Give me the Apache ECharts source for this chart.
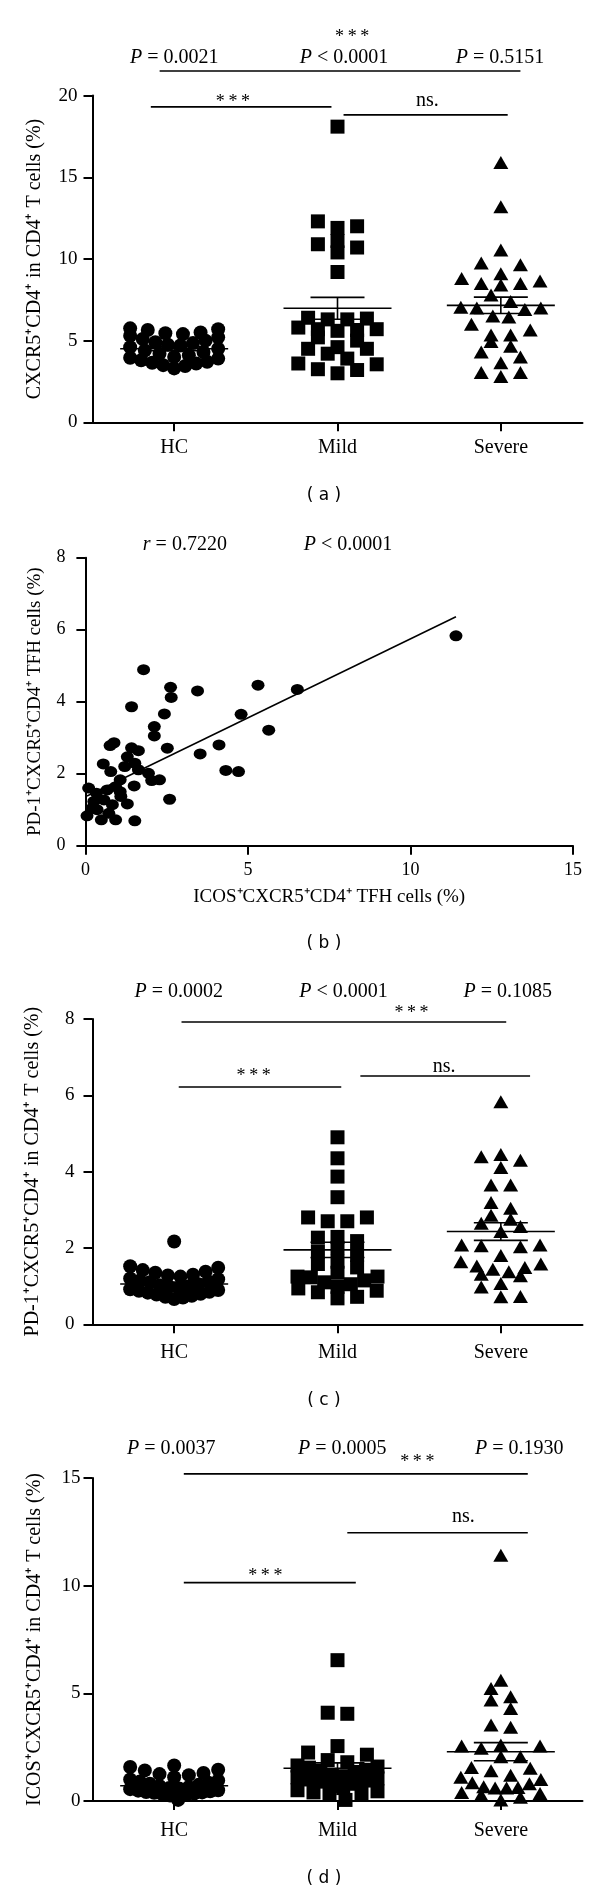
<!DOCTYPE html>
<html><head><meta charset="utf-8">
<script src="https://cdn.jsdelivr.net/npm/echarts@6/dist/echarts.min.js"></script>
<style>html,body{margin:0;padding:0;background:#fff}#c{width:600px;height:1895px}</style>
</head><body><div id="c"></div>
<script>
// ---------------- DATA ----------------
const groups = ['HC', 'Mild', 'Severe'];

// (a) CXCR5+CD4+ in CD4+ T cells (%)
const aYTicks = [0, 5, 10, 15, 20];
const aHC = [5.75, 5.7, 5.65, 5.5, 5.45, 5.4, 5.3, 5.2, 5.1, 5.0, 4.9, 4.85, 4.75, 4.7, 4.6, 4.5, 4.4, 4.3, 4.2, 4.1, 4.0, 3.95, 3.9, 3.8, 3.7, 3.65, 3.6, 3.5, 3.45, 3.3];
const aMild = [18.1, 12.3, 12.0, 11.9, 11.1, 10.9, 10.7, 10.4, 9.2, 6.4, 6.35, 6.3, 6.3, 5.8, 5.7, 5.7, 5.65, 5.6, 5.2, 5.0, 4.6, 4.5, 4.5, 4.2, 3.9, 3.6, 3.55, 3.25, 3.2, 3.0];
const aSevere = [15.9, 13.2, 10.55, 9.75, 9.65, 9.1, 8.8, 8.65, 8.5, 8.5, 8.4, 7.8, 7.4, 7.05, 7.0, 7.0, 6.9, 6.5, 6.45, 6.0, 5.65, 5.35, 5.35, 4.95, 4.65, 4.3, 4.0, 3.65, 3.05, 3.05, 2.8];
const aMean = [4.5, 6.98, 7.16];
const aSEM = [0.12, 0.67, 0.5];
const aP = ['{i|P} = 0.0021', '{i|P} < 0.0001', '{i|P} = 0.5151'];

// (b) correlation
const bXTicks = [0, 5, 10, 15];
const bYTicks = [0, 2, 4, 6, 8];
const bX = [1.79,1.42,2.62,2.64,3.45,5.31,6.52,2.43,4.79,5.64,2.12,2.12,2.52,4.11,3.53,4.32,4.71,2.59,1.52,0.76,0.88,1.42,1.63,0.55,1.29,1.52,0.78,1.21,1.63,1.94,2.04,2.28,1.50,0.10,0.34,0.67,0.93,1.07,0.26,0.57,1.09,1.29,0.05,0.36,0.49,0.72,0.93,0.21,0.83,1.07,11.4];
const bY = [4.89,3.86,4.40,4.12,4.30,4.46,4.34,3.66,3.65,3.21,3.31,3.05,2.71,2.80,2.55,2.09,2.06,1.29,0.69,2.78,2.86,2.72,2.64,2.27,2.47,2.29,2.06,2.20,2.11,2.01,1.81,1.83,1.66,1.60,1.46,1.55,1.64,1.83,1.23,1.27,1.37,1.16,0.83,1.00,0.72,0.90,0.72,1.04,1.14,1.50,5.83];
const bFitX = [0.05, 11.4];
const bFitY = [1.38, 6.36];
const bStats = ['{i|r} = 0.7220', '{i|P} < 0.0001'];

// (c) PD-1+CXCR5+CD4+ in CD4+ T cells (%)
const cYTicks = [0, 2, 4, 6, 8];
const cHC = [2.17, 1.52, 1.48, 1.42, 1.38, 1.35, 1.3, 1.28, 1.25, 1.2, 1.18, 1.15, 1.12, 1.1, 1.05, 1.02, 1.0, 0.98, 0.95, 0.92, 0.9, 0.88, 0.85, 0.83, 0.8, 0.78, 0.75, 0.72, 0.7, 0.66];
const cMild = [4.9, 4.35, 3.87, 3.33, 2.8, 2.8, 2.7, 2.7, 2.29, 2.27, 2.18, 2.0, 1.9, 1.82, 1.64, 1.58, 1.49, 1.35, 1.25, 1.25, 1.23, 1.15, 1.1, 1.05, 0.98, 0.94, 0.88, 0.84, 0.72, 0.68];
const cSevere = [5.83, 4.45, 4.39, 4.3, 4.11, 3.65, 3.65, 3.19, 3.04, 2.86, 2.75, 2.65, 2.56, 2.43, 2.08, 2.08, 2.06, 2.03, 1.8, 1.64, 1.58, 1.53, 1.49, 1.44, 1.38, 1.31, 1.27, 1.07, 0.98, 0.73, 0.72];
const cMean = [1.055, 1.95, 2.43];
const cSEM = [0.05, 0.2, 0.23];
const cP = ['{i|P} = 0.0002', '{i|P} < 0.0001', '{i|P} = 0.1085'];

// (d) ICOS+CXCR5+CD4+ in CD4+ T cells (%)
const dYTicks = [0, 5, 10, 15];
const dHC = [1.65, 1.58, 1.45, 1.42, 1.3, 1.25, 1.2, 1.1, 1.0, 0.95, 0.9, 0.85, 0.8, 0.75, 0.7, 0.65, 0.6, 0.58, 0.55, 0.5, 0.48, 0.45, 0.42, 0.4, 0.38, 0.35, 0.32, 0.3, 0.25, 0.05];
const dMild = [6.54, 4.1, 4.05, 2.55, 2.25, 2.15, 1.9, 1.8, 1.65, 1.6, 1.55, 1.45, 1.4, 1.35, 1.2, 1.15, 1.1, 1.05, 1.0, 0.95, 0.9, 0.8, 0.7, 0.6, 0.5, 0.45, 0.4, 0.35, 0.3, 0.05];
const dSevere = [11.41, 5.61, 5.23, 4.84, 4.69, 4.3, 3.53, 3.42, 2.6, 2.55, 2.55, 2.45, 2.06, 2.06, 1.56, 1.52, 1.4, 1.2, 1.1, 1.0, 0.85, 0.8, 0.66, 0.63, 0.6, 0.6, 0.39, 0.35, 0.28, 0.17, 0.05];
const dMean = [0.71, 1.52, 2.29];
const dSEM = [0.07, 0.25, 0.42];
const dP = ['{i|P} = 0.0037', '{i|P} = 0.0005', '{i|P} = 0.1930'];

const STARS = '*\u2009*\u2009*';

// ---------------- LAYOUT / STYLE ----------------
const FONT = '"Liberation Serif", "Times New Roman", serif';
const panels = [
  { vals: [aHC, aMild, aSevere], mean: aMean, sem: aSEM, yTicks: aYTicks,
    yName: 'CXCR5⁺CD4⁺ in CD4⁺ T cells (%)',
    L: { left: 92.5, top: 95.6, width: 490, height: 326.7, xMargin: 15.7, yMargin: 15, nameGap: 47.7 },
    texts: [
      { x: 1.09, y: 23.58, t: STARS, s: 18 },
      { x: 0.0, y: 22.34, t: aP[0] }, { x: 1.04, y: 22.34, t: aP[1] }, { x: 1.995, y: 22.34, t: aP[2] },
      { x: 0.36, y: 19.61, t: STARS, s: 18 },
      { x: 1.55, y: 19.68, t: 'ns.' }
    ],
    lines: [[-0.089, 2.12, 21.51], [-0.143, 0.963, 19.31], [1.037, 2.042, 18.82]] },
  { vals: [cHC, cMild, cSevere], mean: cMean, sem: cSEM, yTicks: cYTicks,
    yName: 'PD-1⁺CXCR5⁺CD4⁺ in CD4⁺ T cells (%)',
    L: { left: 92.5, top: 1019, width: 490, height: 305.3, xMargin: 18.4, yMargin: 18, nameGap: 49.6 },
    texts: [
      { x: 0.028, y: 8.706, t: cP[0] }, { x: 1.037, y: 8.706, t: cP[1] }, { x: 2.042, y: 8.706, t: cP[2] },
      { x: 1.453, y: 8.156, t: STARS, s: 18 },
      { x: 0.487, y: 6.505, t: STARS, s: 18 },
      { x: 1.653, y: 6.754, t: 'ns.' }
    ],
    lines: [[0.045, 2.033, 7.92], [0.028, 1.023, 6.217], [1.14, 2.179, 6.505]] },
  { vals: [dHC, dMild, dSevere], mean: dMean, sem: dSEM, yTicks: dYTicks,
    yName: 'ICOS⁺CXCR5⁺CD4⁺ in CD4⁺ T cells (%)',
    L: { left: 92.5, top: 1478, width: 490, height: 323, xMargin: 19.7, yMargin: 12, nameGap: 47.7 },
    texts: [
      { x: -0.018, y: 16.35, t: dP[0] }, { x: 1.029, y: 16.35, t: dP[1] }, { x: 2.113, y: 16.35, t: dP[2] },
      { x: 1.489, y: 15.72, t: STARS, s: 18 },
      { x: 1.771, y: 13.21, t: 'ns.' },
      { x: 0.558, y: 10.45, t: STARS, s: 18 }
    ],
    lines: [[0.059, 2.165, 15.19], [1.06, 2.165, 12.46], [0.059, 1.112, 10.14]] }
];
const bLayout = { left: 85.4, top: 557.7, width: 487.6, height: 288, xMargin: 16, yMargin: 20, yNameGap: 40.8, xNameGap: 41.6,
  texts: [{ x: 3.06, y: 8.37, t: bStats[0] }, { x: 8.08, y: 8.37, t: bStats[1] }] };
const captions = [['( a )', 324, 496], ['( b )', 324, 944], ['( c )', 324, 1400.7], ['( d )', 324, 1879]];
const shapes = [
  { symbol: 'circle', size: 14 },
  { symbol: 'rect', size: 14 },
  { symbol: 'triangle', size: [15, 13] }
];
const SW = { bin: 11, col: 19.6, halfHC: 44, half: 40 };

// ---------------- BUILD ----------------
function swarm(values, gi, pxU, pxC, bin, col, half) {
  const s = values.slice().sort((a, b) => a - b);
  const rows = [];
  let cur = null;
  s.forEach(v => {
    if (!cur || (v - cur[0]) * pxU > bin) { cur = [v]; rows.push(cur); } else cur.push(v);
  });
  const out = [];
  rows.forEach(r => {
    const n = r.length;
    let d = col;
    if (n > 1 && (n - 1) * d > 2 * half) d = 2 * half / (n - 1);
    r.forEach((v, i) => {
      let k;
      if (n % 2) k = i === 0 ? 0 : (i % 2 ? 1 : -1) * Math.ceil(i / 2);
      else k = (i % 2 ? -1 : 1) * (Math.floor(i / 2) + 0.5);
      out.push([gi + k * d / pxC, v]);
    });
  });
  return out;
}

const grids = [], xAxes = [], yAxes = [], series = [];
const axisLine = { show: true, onZero: false, lineStyle: { color: '#000', width: 2 } };
const axisTick = { show: true, inside: false, length: 9, lineStyle: { color: '#000', width: 2 } };

function textRich(size) {
  return { i: { fontStyle: 'italic', fontFamily: FONT, fontSize: size, fill: '#000' } };
}
function textSeries(xi, yi, texts) {
  return {
    type: 'custom', xAxisIndex: xi, yAxisIndex: yi, clip: false, silent: true, z: 6,
    data: texts.map(t => [t.x, t.y]), encode: { x: 0, y: 1 },
    renderItem: (params, api) => {
      const t = texts[params.dataIndex];
      const c = api.coord([api.value(0), api.value(1)]);
      const sz = t.s || 20;
      return { type: 'text', x: c[0], y: c[1], style: {
        text: t.t, fill: '#000', fontFamily: FONT, fontSize: sz,
        align: 'center', verticalAlign: 'middle', textAlign: 'center', textVerticalAlign: 'middle',
        rich: textRich(sz) } };
    }
  };
}
function lineSeries(xi, yi, lines) {
  return {
    type: 'custom', xAxisIndex: xi, yAxisIndex: yi, clip: false, silent: true, z: 6,
    data: lines, encode: { x: [0, 1], y: 2 },
    renderItem: (params, api) => {
      const p1 = api.coord([api.value(0), api.value(2)]);
      const p2 = api.coord([api.value(1), api.value(2)]);
      return { type: 'line', shape: { x1: p1[0], y1: p1[1], x2: p2[0], y2: p2[1] },
        style: { stroke: '#000', lineWidth: 1.6 } };
    }
  };
}

panels.forEach(p => {
  const L = p.L;
  const gi = grids.length;
  grids.push({ left: L.left, top: L.top, width: L.width, height: L.height, containLabel: false, outerBoundsMode: 'none' });
  const yMin = p.yTicks[0], yMax = p.yTicks[p.yTicks.length - 1], yInt = p.yTicks[1] - p.yTicks[0];
  const pxU = L.height / (yMax - yMin), pxC = L.width / groups.length;
  xAxes.push({ type: 'category', gridIndex: gi, data: groups, boundaryGap: true,
    axisLine, axisTick: Object.assign({ alignWithLabel: true }, axisTick),
    axisLabel: { show: true, color: '#000', fontFamily: FONT, fontSize: 20, margin: L.xMargin },
    splitLine: { show: false } });
  const xVal = xAxes.length;
  xAxes.push({ type: 'value', gridIndex: gi, min: -0.5, max: 2.5, show: false, splitLine: { show: false } });
  const yi = yAxes.length;
  yAxes.push({ type: 'value', gridIndex: gi, min: yMin, max: yMax, interval: yInt,
    axisLine, axisTick, splitLine: { show: false },
    axisLabel: { show: true, color: '#000', fontFamily: FONT, fontSize: 19, margin: L.yMargin },
    name: p.yName, nameLocation: 'middle', nameGap: L.nameGap,
    nameTextStyle: { color: '#000', fontFamily: FONT, fontSize: 20 } });
  p.vals.forEach((vals, g) => {
    series.push({ type: 'scatter', xAxisIndex: xVal, yAxisIndex: yi, clip: false, silent: true, z: 2,
      data: swarm(vals, g, pxU, pxC, SW.bin, SW.col, g === 0 ? SW.halfHC : SW.half),
      symbol: shapes[g].symbol, symbolSize: shapes[g].size,
      itemStyle: { color: '#000', opacity: 1 } });
  });
  series.push({ type: 'custom', xAxisIndex: xVal, yAxisIndex: yi, silent: true, z: 4,
    data: p.mean.map((m, g) => [g, m, p.sem[g]]), encode: { x: 0, y: 1 },
    renderItem: (params, api) => {
      const g = api.value(0), m = api.value(1), s = api.value(2);
      const c = api.coord([g, m]), t = api.coord([g, m + s]), b = api.coord([g, m - s]);
      const st = { stroke: '#000', lineWidth: 1.6 };
      return { type: 'group', children: [
        { type: 'line', shape: { x1: c[0] - 54, y1: c[1], x2: c[0] + 54, y2: c[1] }, style: st },
        { type: 'line', shape: { x1: t[0] - 27, y1: t[1], x2: t[0] + 27, y2: t[1] }, style: st },
        { type: 'line', shape: { x1: b[0] - 27, y1: b[1], x2: b[0] + 27, y2: b[1] }, style: st },
        { type: 'line', shape: { x1: c[0], y1: t[1], x2: c[0], y2: b[1] }, style: st }
      ] };
    } });
  series.push(lineSeries(xVal, yi, p.lines));
  series.push(textSeries(xVal, yi, p.texts));
});

// panel (b)
(function () {
  const L = bLayout;
  const gi = grids.length;
  grids.push({ left: L.left, top: L.top, width: L.width, height: L.height, containLabel: false, outerBoundsMode: 'none' });
  const xi = xAxes.length;
  xAxes.push({ type: 'value', gridIndex: gi, min: bXTicks[0], max: bXTicks[bXTicks.length - 1], interval: bXTicks[1] - bXTicks[0],
    axisLine, axisTick, splitLine: { show: false },
    axisLabel: { show: true, color: '#000', fontFamily: FONT, fontSize: 18, margin: L.xMargin },
    name: 'ICOS⁺CXCR5⁺CD4⁺ TFH cells (%)', nameLocation: 'middle', nameGap: L.xNameGap,
    nameTextStyle: { color: '#000', fontFamily: FONT, fontSize: 19 } });
  const yi = yAxes.length;
  yAxes.push({ type: 'value', gridIndex: gi, min: bYTicks[0], max: bYTicks[bYTicks.length - 1], interval: bYTicks[1] - bYTicks[0],
    axisLine, axisTick, splitLine: { show: false },
    axisLabel: { show: true, color: '#000', fontFamily: FONT, fontSize: 18, margin: L.yMargin },
    name: 'PD-1⁺CXCR5⁺CD4⁺ TFH cells (%)', nameLocation: 'middle', nameGap: L.yNameGap,
    nameTextStyle: { color: '#000', fontFamily: FONT, fontSize: 19 } });
  series.push({ type: 'scatter', xAxisIndex: xi, yAxisIndex: yi, clip: false, silent: true, z: 2,
    data: bX.map((x, i) => [x, bY[i]]),
    symbol: 'path://M0,5A5,5 0 1,1 10,5A5,5 0 1,1 0,5Z', symbolSize: [13, 11],
    itemStyle: { color: '#000', opacity: 1 } });
  series.push({ type: 'line', xAxisIndex: xi, yAxisIndex: yi, clip: false, silent: true, z: 3,
    data: bFitX.map((x, i) => [x, bFitY[i]]), showSymbol: false, symbol: 'none',
    lineStyle: { color: '#000', width: 1.5 } });
  series.push(textSeries(xi, yi, L.texts));
})();

const chart = echarts.init(document.getElementById('c'), null, { renderer: 'canvas' });
chart.setOption({
  animation: false,
  backgroundColor: '#fff',
  grid: grids, xAxis: xAxes, yAxis: yAxes, series,
  graphic: captions.map(c => ({ type: 'text', x: c[1], y: c[2], silent: true,
    style: { text: c[0], fill: '#000', fontFamily: 'DejaVu Sans', fontSize: 17,
      align: 'center', verticalAlign: 'middle', textAlign: 'center', textVerticalAlign: 'middle' } }))
});
</script>
</body></html>
